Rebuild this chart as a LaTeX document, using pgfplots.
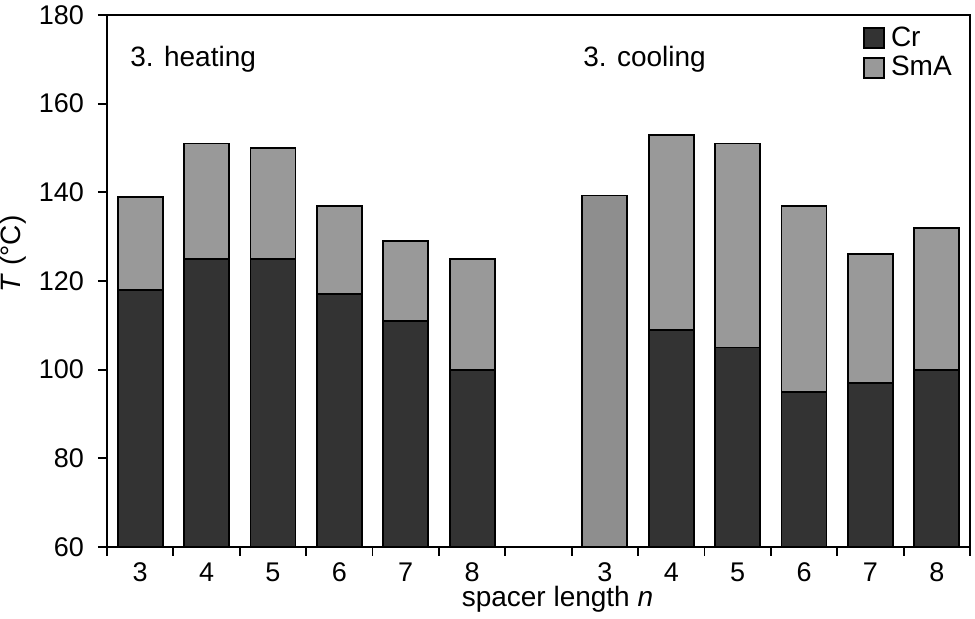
\documentclass[border=0pt]{standalone}
\usepackage{fontspec}
\setmainfont{Liberation Sans}
\usepackage{pgfplots}
\pgfplotsset{compat=1.18}
\definecolor{crcol}{HTML}{333333}
\definecolor{smacol}{HTML}{999999}
\definecolor{smacolb}{HTML}{8E8E8E}
\begin{document}
\begin{tikzpicture}
\begin{axis}[
  name=ax,
  scale only axis,
  width=431.5pt, height=266pt,
  xmin=-0.5, xmax=12.5,
  ymin=60, ymax=180,
  ytick={60,80,...,180},
  xtick={-0.5,0.5,...,12.5},
  x tick label as interval,
  xticklabels={3,4,5,6,7,8,{},3,4,5,6,7,8},
  xtick pos=bottom, ytick pos=left,
  tick align=outside,
  major tick length=4.5pt,
  tick style={black, line width=0.9pt},
  axis line style={line width=1pt},
  axis on top,
  /pgf/number format/assume math mode=true,
  tick label style={font=\fontsize{13.5}{16}\selectfont},
  yticklabel style={xshift=-3.5pt},
  label style={font=\fontsize{14}{17}\selectfont},
  xlabel={spacer length \textit{n}},
  ylabel={\textit{T} (°C)},
  xlabel style={at={(axis description cs:0.522,-0.1128)}, anchor=base},
  ylabel style={at={(axis description cs:-0.1008,0.551)}, anchor=base},
  ybar, bar width=22.5pt, bar shift=0pt,
  legend cell align=left,
  legend style={draw=none, fill=none, at={(axis description cs:0.876,0.9775)}, anchor=north west,
    inner sep=0pt, font=\fontsize{14}{17}\selectfont,
    nodes={inner sep=0.5pt, text height=8pt, text depth=3pt},
    column sep=2.5pt, row sep=2pt},
  legend image code/.code={\draw[#1, line width=0.8pt] (0pt,-3.5pt) rectangle (10pt,6.5pt);},
  reverse legend,
]
% SmA (total transition temperature)
\addplot[fill=smacol, draw=black, line width=0.9pt] coordinates {
  (0,139) (1,151) (2,150) (3,137) (4,129) (5,125)
  (8,153) (9,151) (10,137) (11,126) (12,132)};
\addlegendentry{SmA}
\addplot[fill=smacolb, draw=black, line width=0.9pt, forget plot] coordinates {(7,139.3)};
% Cr
\addplot[fill=crcol, draw=black, line width=0.9pt] coordinates {
  (0,118) (1,125) (2,125) (3,117) (4,111) (5,100)
  (8,109) (9,105) (10,95) (11,97) (12,100)};
\addlegendentry{Cr}
\node[anchor=base west, inner sep=0pt, font=\fontsize{14}{17}\selectfont] at (axis cs:-0.154,168.3) {3. heating};
\node[anchor=base west, inner sep=0pt, font=\fontsize{14}{17}\selectfont] at (axis cs:6.669,168.3) {3. cooling};
\end{axis}
\pgfresetboundingbox
\path[use as bounding box] ([shift={(-53.5pt,-36pt)}]ax.south west) rectangle ([shift={(2.5pt,7.5pt)}]ax.north east);
\end{tikzpicture}
\end{document}
